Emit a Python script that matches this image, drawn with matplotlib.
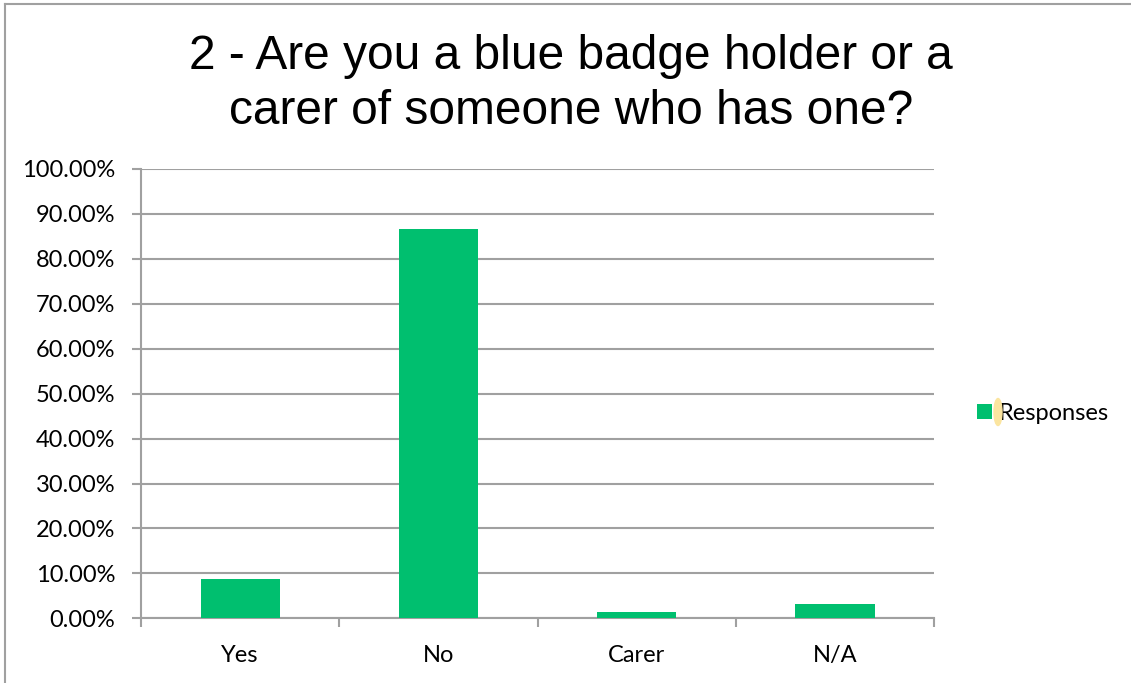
import matplotlib.pyplot as plt
from matplotlib.lines import Line2D
from matplotlib.patches import Ellipse
from matplotlib.ticker import FixedLocator, PercentFormatter

categories = ["Yes", "No", "Carer", "N/A"]
responses = [8.7, 86.6, 1.3, 3.1]  # percent of respondents
y_ticks = list(range(0, 101, 10))

bar_color = "#00BF6F"
grid_color = "#A0A0A0"

fig = plt.figure(figsize=(11.31, 6.83), dpi=100)
ax = fig.add_axes([0.1247, 0.0947, 0.7011, 0.6579])

x = range(len(categories))
bars = ax.bar(x, responses, width=0.4, color=bar_color, zorder=3, label="Responses")

ax.set_xlim(-0.5, len(categories) - 0.5)
ax.set_ylim(0, 100)
ax.set_yticks(y_ticks)
ax.yaxis.set_major_formatter(PercentFormatter(decimals=2))
ax.grid(axis="y", color=grid_color, linewidth=1.5, zorder=0)

# category labels sit on minor ticks, boundaries get the visible tick marks
ax.xaxis.set_major_locator(FixedLocator([i - 0.5 for i in range(len(categories) + 1)]))
ax.xaxis.set_minor_locator(FixedLocator(list(x)))
ax.set_xticklabels([], minor=False)
ax.set_xticklabels(categories, minor=True)
ax.tick_params(axis="x", which="major", length=6.5, width=1.5, color=grid_color)
ax.tick_params(axis="x", which="minor", length=0, pad=19)
ax.tick_params(axis="y", length=6.5, width=1.5, color=grid_color, pad=12)
for lbl in ax.get_xticklabels(minor=True) + ax.get_yticklabels():
    lbl.set_fontfamily("Lato")
    lbl.set_fontsize(17)

for side in ["top", "right"]:
    ax.spines[side].set_visible(False)
for side in ["left", "bottom"]:
    ax.spines[side].set_color(grid_color)
    ax.spines[side].set_linewidth(1.5)

fig.text(0.505, 0.877, "2 - Are you a blue badge holder or a\ncarer of someone who has one?",
         ha="center", va="center", fontsize=34.5, family="Liberation Sans", linespacing=1.27)

leg = ax.legend(loc="center left", bbox_to_anchor=(1.027, 0.456), frameon=False,
                handlelength=0.64, handleheight=0.64, handletextpad=0.3,
                prop={"family": "Lato", "size": 17})

# small highlight mark beside the legend entry
fig.patches.append(Ellipse((998 / 1131, 1 - 412 / 683), 8 / 1131, 27 / 683,
                           transform=fig.transFigure, color="#FBE5A0", zorder=0))

# outer chart frame (top and left edges)
fig.add_artist(Line2D([5 / 1131, 5 / 1131], [0, 1 - 4 / 683], transform=fig.transFigure,
                      color=grid_color, linewidth=1.5))
fig.add_artist(Line2D([5 / 1131, 1], [1 - 4 / 683, 1 - 4 / 683], transform=fig.transFigure,
                      color=grid_color, linewidth=1.5))

fig.savefig("out.png", dpi=100)
